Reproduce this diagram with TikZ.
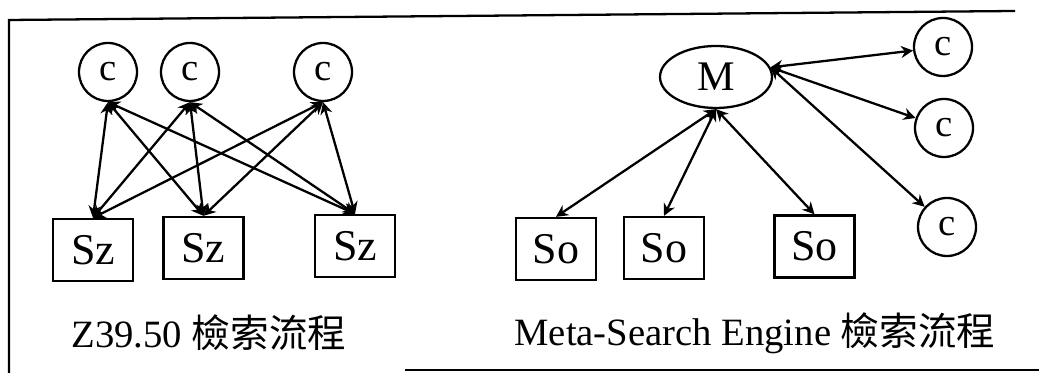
\documentclass[tikz,border=0pt]{standalone}
\usepackage{fontspec}
\setmainfont{Liberation Serif}
\newfontfamily\cjk{Noto Sans CJK TC}
\usetikzlibrary{shapes.geometric,arrows.meta}

\begin{document}
\begin{tikzpicture}[line width=1.3pt,
    every node/.style={font=\fontsize{22}{26}\selectfont},
    client/.style={circle,draw,minimum size=1.16cm,inner sep=0pt},
    server/.style={rectangle,draw,minimum width=1.6cm,minimum height=1.24cm,inner sep=0pt,
      font=\fontsize{25}{30}\selectfont},
    meta/.style={ellipse,draw,minimum width=2.24cm,minimum height=1.24cm,inner sep=0pt,
      font=\fontsize{24}{28}\selectfont},
    link/.style={{Stealth[length=2.4mm,width=2.4mm]}-{Stealth[length=2.4mm,width=2.4mm]}}]
    \useasboundingbox (0,0) rectangle (20.78,7.46);
    % frame
    \draw (20.3,7.24) -- (0.18,7.06) -- (0.18,0);
    \draw (8.1,0.06) -- (20.78,0.06);

    % Z39.50
    \node[client] (C1) at (2.16,6.02) {c};
    \node[client] (C2) at (3.80,6.02) {c};
    \node[client] (C3) at (6.46,6.02) {c};
    \node[server] (Z1) at (1.86,2.46) {Sz};
    \node[server] (Z2) at (4.07,2.50) {Sz};
    \node[server] (Z3) at (7.10,2.54) {Sz};
    \path[link] (C1.south) edge (Z1.north) edge (Z2.north) edge (Z3.north);
    \path[link] (C2.south) edge (Z1.north) edge (Z2.north) edge (Z3.north);
    \path[link] (C3.south) edge (Z1.north) edge (Z2.north) edge (Z3.north);
    \node[inner sep=0pt] (ZT) at (4.18,0.8) {Z39.50 {\cjk 檢索流程}};

    % Meta-Search Engine
    \node[meta] (M) at (14.32,5.92) {M};
    \node[client] (C4) at (18.86,6.52) {c};
    \node[client] (C5) at (18.88,4.90) {c};
    \node[client] (C6) at (18.94,2.92) {c};
    \node[server] (O1) at (11.12,2.48) {So};
    \node[server] (O2) at (13.28,2.50) {So};
    \node[server] (O3) at (16.29,2.53) {So};
    \path[link] (M.south) edge (O1.north) edge (O2.north) edge (O3.north);
    \path[link] (M.10) edge (C4) edge (C5) edge (C6);
    \node[inner sep=0pt] (MT) at (15.1,0.8) {Meta-Search Engine {\cjk 檢索流程}};
\end{tikzpicture}
\end{document}
